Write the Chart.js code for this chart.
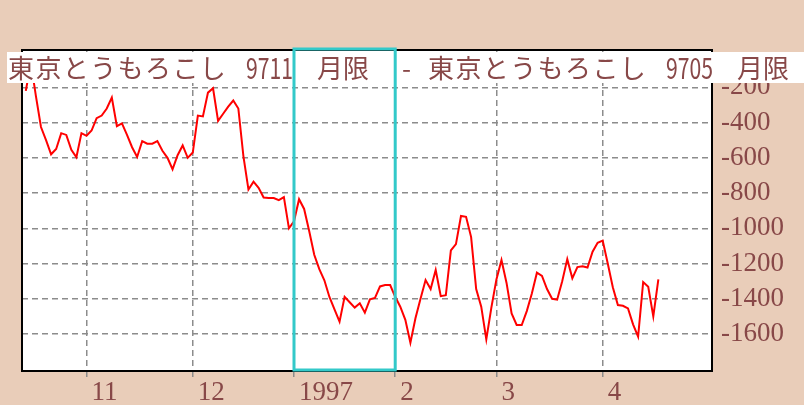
<!DOCTYPE html>
<html lang="ja">
<head>
<meta charset="UTF-8">
<title>東京とうもろこし スプレッド</title>
<script src="https://cdn.jsdelivr.net/npm/chart.js"></script>
<style>
    * { margin: 0; padding: 0; box-sizing: border-box; }
    body { width: 804px; height: 405px; overflow: hidden; background: #e9cdb9; }
    .wrap { position: relative; width: 804px; height: 405px; }
</style>
</head>
<body>
<div class="wrap"><canvas id="spreadChart"></canvas></div>
<script>
// title pieces: 9711 contract minus 9705 contract
const titleParts = ['東京とうもろこし', '9711', '月限', '-', '東京とうもろこし', '9705', '月限'];

// x axis: trading day index, month labels at first trading day of each month
const monthLabels = ['11', '12', '1997', '2', '3', '4'];
const monthStarts = [12, 33, 53, 73, 93, 114];
const highlightMonths = [53, 73]; // January 1997 box

const yTicks = [-200, -400, -600, -800, -1000, -1200, -1400, -1600];

// daily spread (yen), mid Oct 1996 to mid Apr 1997
const spread = [
    -220, -60, -250, -425, -500, -580, -550, -460, -470, -555,
    -597, -460, -475, -445, -375, -360, -320, -258, -420, -405,
    -470, -540, -595, -505, -520, -520, -505, -560, -600, -665,
    -585, -530, -600, -570, -360, -365, -230, -205, -390, -350,
    -310, -275, -320, -590, -780, -735, -770, -825, -828, -828,
    -840, -823, -1000, -960, -835, -890, -1015, -1150, -1232, -1295,
    -1390, -1460, -1530, -1389, -1420, -1450, -1426, -1479, -1403, -1395,
    -1330, -1322, -1322, -1389, -1445, -1520, -1650, -1511, -1400, -1294,
    -1345, -1237, -1385, -1380, -1125, -1090, -930, -935, -1050, -1345,
    -1445, -1630, -1450, -1290, -1180, -1310, -1483, -1549, -1549, -1470,
    -1370, -1252, -1270, -1345, -1400, -1405, -1300, -1175, -1284, -1220,
    -1215, -1223, -1133, -1082, -1070, -1200, -1335, -1436, -1440, -1455,
    -1545, -1615, -1305, -1332, -1500, -1290
];

const labelColor = '#884848';
const axisFont = { family: '"Liberation Serif", serif', size: 27 };

const framePlugin = {
    id: 'frame',
    beforeDraw(chart) {
        const { ctx, chartArea: a } = chart;
        ctx.save();
        ctx.fillStyle = '#e9cdb9';
        ctx.fillRect(0, 0, chart.width, chart.height);
        ctx.fillStyle = '#ffffff';
        ctx.fillRect(a.left, a.top, a.right - a.left, a.bottom - a.top);
        ctx.restore();
    },
    afterDraw(chart) {
        const { ctx, chartArea: a, scales } = chart;
        ctx.save();
        // plot frame
        ctx.strokeStyle = '#000';
        ctx.lineWidth = 2;
        ctx.strokeRect(a.left, a.top, a.right - a.left, a.bottom - a.top);

        // title band over the top of the plot
        ctx.fillStyle = '#ffffff';
        ctx.fillRect(7, 52, chart.width - 7, 31);
        ctx.fillStyle = labelColor;
        ctx.textBaseline = 'middle';
        const layout = [[8, 0], [246, 47], [317, 0], [402, 0], [428, 0], [666, 47], [737, 0]];
        titleParts.forEach((t, i) => {
            const [x, w] = layout[i];
            const digits = /^\d+$/.test(t);
            ctx.font = digits ? '29px "Noto Sans CJK JP"' : '26px "Noto Sans CJK JP"';
            ctx.letterSpacing = (i === 0 || i === 4) ? '1.4px' : '0px';
            if (w) ctx.fillText(t, x, 68, w);
            else ctx.fillText(t, x, 68);
        });

        // cyan box around January
        const l = scales.x.getPixelForValue(highlightMonths[0]);
        const r = scales.x.getPixelForValue(highlightMonths[1]);
        ctx.strokeStyle = '#33c9c9';
        ctx.lineWidth = 3;
        ctx.strokeRect(l, a.top - 1, r - l, a.bottom - a.top);
        ctx.restore();
    }
};

new Chart(document.getElementById('spreadChart'), {
    type: 'line',
    data: {
        datasets: [{
            data: spread.map((v, i) => ({ x: i, y: v })),
            borderColor: '#ff0000',
            borderWidth: 2,
            pointRadius: 0,
            tension: 0,
            fill: false
        }]
    },
    options: {
        responsive: true,
        maintainAspectRatio: false,
        animation: false,
        layout: { padding: { left: 22, top: 50, right: 0, bottom: 0 } },
        plugins: { legend: { display: false }, tooltip: { enabled: false } },
        scales: {
            x: {
                type: 'linear',
                min: -0.75,
                max: 135.6,
                afterBuildTicks: s => { s.ticks = monthStarts.map(v => ({ value: v })); },
                afterFit: s => { s.height = 34; },
                ticks: {
                    autoSkip: false,
                    maxRotation: 0,
                    align: 'start',
                    labelOffset: 5,
                    padding: 0,
                    color: labelColor,
                    font: axisFont,
                    callback: v => monthLabels[monthStarts.indexOf(v)]
                },
                grid: {
                    color: '#8c8c8c',
                    lineWidth: 1.5,
                    tickLength: 6,
                    tickColor: '#8c8c8c',
                    tickBorderDash: []
                },
                border: { color: '#000', width: 2, dash: [6, 4] }
            },
            y: {
                position: 'right',
                min: -1810,
                max: 12,
                afterBuildTicks: s => { s.ticks = yTicks.map(v => ({ value: v })); },
                afterFit: s => { s.width = 92; },
                ticks: {
                    padding: 9,
                    color: labelColor,
                    font: axisFont,
                    callback: v => String(v)
                },
                grid: {
                    color: '#8c8c8c',
                    lineWidth: 1.5,
                    drawTicks: false
                },
                border: { color: '#000', width: 2, dash: [6, 4] }
            }
        }
    },
    plugins: [framePlugin]
});
</script>
</body>
</html>
